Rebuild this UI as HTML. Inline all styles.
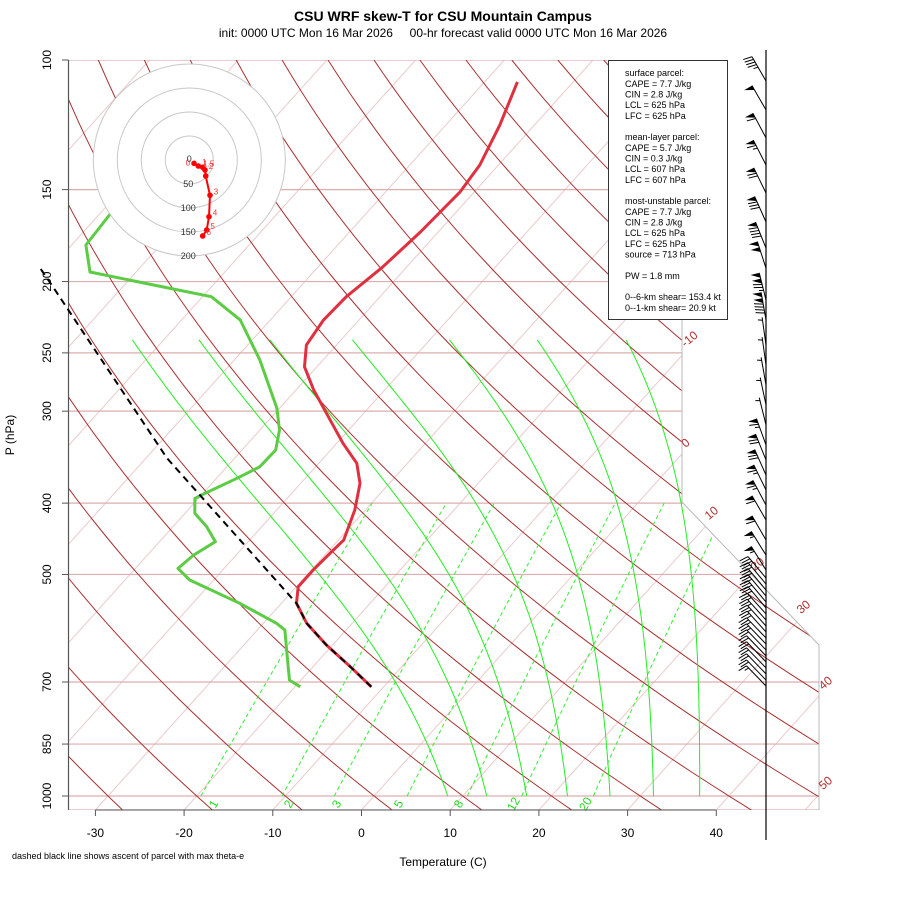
<!DOCTYPE html>
<html><head><meta charset="utf-8"><style>
body{margin:0;background:#fff;}
svg{display:block;font-family:"Liberation Sans",Arial,sans-serif;}
</style></head><body>
<svg id="chart" xmlns="http://www.w3.org/2000/svg" width="900" height="900" viewBox="0 0 900 900">
<defs><clipPath id="plotclip"><polygon points="68.5,60 682,60 682,502 819,645 819,810 68.5,810"/></clipPath></defs>
<rect width="900" height="900" fill="#fff"/>
<text x="443" y="21" text-anchor="middle" font-size="14" font-weight="bold">CSU WRF skew-T for CSU Mountain Campus</text>
<text x="443" y="37" text-anchor="middle" font-size="12" style="white-space:pre">init: 0000 UTC Mon 16 Mar 2026     00-hr forecast valid 0000 UTC Mon 16 Mar 2026</text>
<g id="bg" clip-path="url(#plotclip)"></g>
<g id="frame"></g>
<g id="series"></g>
<g id="hodo"></g>
<g id="barbs"></g>
<g id="axes"></g>
<g>
<rect x="608.5" y="60.5" width="119" height="259" fill="#fff" stroke="#333" stroke-width="1"/>
<text font-size="9" x="625" fill="#000">
<tspan x="625" y="76">surface parcel:</tspan>
<tspan x="625" y="87">CAPE = 7.7 J/kg</tspan>
<tspan x="625" y="97.5">CIN = 2.8 J/kg</tspan>
<tspan x="625" y="108">LCL = 625 hPa</tspan>
<tspan x="625" y="119">LFC = 625 hPa</tspan>
<tspan x="625" y="140">mean-layer parcel:</tspan>
<tspan x="625" y="151">CAPE = 5.7 J/kg</tspan>
<tspan x="625" y="161.5">CIN = 0.3 J/kg</tspan>
<tspan x="625" y="172">LCL = 607 hPa</tspan>
<tspan x="625" y="183">LFC = 607 hPa</tspan>
<tspan x="625" y="204">most-unstable parcel:</tspan>
<tspan x="625" y="215">CAPE = 7.7 J/kg</tspan>
<tspan x="625" y="225.5">CIN = 2.8 J/kg</tspan>
<tspan x="625" y="236">LCL = 625 hPa</tspan>
<tspan x="625" y="247">LFC = 625 hPa</tspan>
<tspan x="625" y="257.5">source = 713 hPa</tspan>
<tspan x="625" y="279">PW =  1.8 mm</tspan>
<tspan x="625" y="300">0--6-km shear= 153.4 kt</tspan>
<tspan x="625" y="311">0--1-km shear= 20.9 kt</tspan>
</text>
</g>
<text x="443" y="866" text-anchor="middle" font-size="12">Temperature (C)</text>
<text transform="translate(14,435) rotate(-90)" text-anchor="middle" font-size="12">P (hPa)</text>
<text x="12" y="859" font-size="9">dashed black line shows ascent of parcel with max theta-e</text>
</svg>
<script>
// ---- data ----
const tempP = [710.5,667.3,623.5,582.7,547.3,519.5,493.2,468.0,449.0,408.7,376.1,353.2,331.7,302.0,280.8,261.1,243.9,225.5,209.7,190.9,171.3,151.1,138.9,122.6,107.1];
const tempT = [-11.4,-15.8,-20.7,-25.1,-28.3,-29.8,-29.8,-29.6,-29.4,-31.2,-33.3,-35.7,-39.3,-44.2,-48.0,-51.4,-53.4,-54.0,-53.8,-52.7,-52.0,-51.6,-52.1,-53.9,-56.3];
const dewP = [710.5,695.8,640.0,595.0,582.7,547.3,508.8,490.6,470.6,451.3,430.6,413.0,394.1,390.0,370.1,357.0,338.8,318.2,297.3,255.7,225.5,209.7,204.3,194.1,178.4,161.9,150.0];
const dewT = [-19.4,-21.3,-24.3,-26.9,-28.5,-34.7,-42.7,-45.2,-44.8,-43.7,-46.2,-48.9,-50.4,-50.0,-47.7,-46.3,-46.2,-47.8,-50.3,-57.1,-63.4,-69.0,-74.5,-85.2,-88.4,-88.8,-88.0];
const parcelP = [710.5,667.3,623.5,582.7,547.3,347.7,205.4,191.8];
const parcelT = [-11.4,-15.8,-20.7,-25.1,-28.3,-57.6,-87.3,-91.2];
const hodoU = [9.8,18.8,27.9,32.7,34.2,43.1,41.0,36.3,27.9];
const hodoV = [-6.9,-12.5,-15.2,-20.8,-33.3,-73.5,-118.1,-145.8,-158.3];
const hodoLabels = ["0","1","1.5","2","","3","4","5","6"];
const hodoRings = [50,100,150,200];
const barbP = [106.8,116.9,127.6,138.9,151.6,166.0,180.1,191.8,211.9,225.5,243.9,259.6,276.4,294.2,313.1,333.4,349.5,366.4,383.9,402.4,421.7,449.0,470.6,493.2,505.6,515.2,525.0,535.0,545.0,555.3,565.8,576.6,587.5,598.6,609.9,621.5,633.2,645.1,657.3,669.9,682.5,695.8,708.8];
const barbSpd = [45,50,60,65,70,80,90,100,125,140,5,5,5,5,5,65,70,70,65,65,60,60,55,55,30,30,30,30,30,30,25,25,25,25,25,25,20,20,20,20,20,20,15];
const barbDir = [330,330,332,333,334,336,338,342,346,350,352,352,350,348,346,340,338,336,334,332,330,330,328,328,320,320,320,320,320,320,318,318,318,318,316,316,316,316,316,316,316,316,316];
const pTicks = [100,150,200,250,300,400,500,700,850,1000];
const tTicks = [-30,-20,-10,0,10,20,30,40];
const mixRatios = [1,2,3,5,8,12,20];
const moistT1000 = [8.3,12.7,17.2,21.8,26.6,31.5,36.7];
const moistVapourFactor = [1,1,0.95,0.9,0.85,0.76,0.67];
const dryTheta = [-30,-20,-10,0,10,20,30,40,50,60,70,80,90,100,110,120,130,140,150,160,170,180,190,200,210,220,230,240,250];
const isoT = [-130,-120,-110,-100,-90,-80,-70,-60,-50,-40,-30,-20,-10,0,10,20,30,40,50];

// ---- axis functions ----
const X0=361.5, DX=8.87, K=0.9, YB=810;
function yP(p){return 60+736*Math.log10(p/100);}
function xT(T,y){return X0+DX*T+K*(YB-y);}
const NS="http://www.w3.org/2000/svg";
function mk(tag,attrs,parent){const e=document.createElementNS(NS,tag);for(const k in attrs)e.setAttribute(k,attrs[k]);parent.appendChild(e);return e;}
function pathFrom(pts){return pts.map((q,i)=>(i?'L':'M')+q[0].toFixed(1)+','+q[1].toFixed(1)).join(' ');}
const bg=document.getElementById('bg'), frame=document.getElementById('frame'), series=document.getElementById('series'), hodo=document.getElementById('hodo'), barbs=document.getElementById('barbs'), axes=document.getElementById('axes');

// isotherms
isoT.forEach(T=>{
  const l=mk('line',{x1:xT(T,810),y1:810,x2:xT(T,60),y2:60,stroke:'#eccaca','stroke-width':1},bg);
  
  
});
// isobars
pTicks.forEach(p=>{
  const y=yP(p);
  const l=mk('line',{x1:68.5,y1:y,x2:830,y2:y,stroke:'#dcaeae','stroke-width':1.2},bg);
  
  
});
mk('line',{x1:68.5,y1:810,x2:830,y2:810,stroke:'#dcaeae','stroke-width':1.2},bg);
// dry adiabats
dryTheta.forEach(th=>{
  const pts=[];
  for(let i=0;i<=60;i++){const p=Math.exp(Math.log(1050)+(Math.log(100)-Math.log(1050))*i/60);const T=(th+273.15)*Math.pow(p/1000,0.2857)-273.15;const y=yP(p);pts.push([xT(T,y),y]);}
  const l=mk('path',{d:pathFrom(pts),fill:'none',stroke:'#a83030','stroke-width':1},bg);
  
  
});
// mixing ratio lines
function tdFromW(w,p){const e=w*p/(622+w);const a=Math.log(e/6.112);let td=243.5*a/(17.67-a);td-=Math.max(0,5-w)*0.6;return td;}
mixRatios.forEach(w=>{
  const pts=[];
  for(let p=1000;p>=400;p-=20){const y=yP(p);pts.push([xT(tdFromW(w,p),y),y]);}
  const l=mk('path',{d:pathFrom(pts),fill:'none',stroke:'#33ee33','stroke-width':1,'stroke-dasharray':'4,3'},bg);
  
  
});
// moist adiabats
function es(T){return 6.112*Math.exp(17.67*T/(T+243.5));}
moistT1000.forEach((T0,j)=>{
  const f=moistVapourFactor[j];
  let T=T0, lp=Math.log(1000); const lpEnd=Math.log(240); const n=120; const d=(lpEnd-lp)/n;
  const pts=[[xT(T,yP(1000)),yP(1000)]];
  for(let i=0;i<n;i++){
    const p=Math.exp(lp);const Tk=T+273.15;const e=es(T);const ws=f*0.622*e/(p-e);
    const dT=(287*Tk+2.5e6*ws)/(1004+2.5e6*2.5e6*ws*0.622/(287*Tk*Tk));
    T+=dT*d; lp+=d; const y=yP(Math.exp(lp)); pts.push([xT(T,y),y]);
  }
  const l=mk('path',{d:pathFrom(pts),fill:'none',stroke:'#22ee22','stroke-width':1},bg);
  
  
});
// frame
mk('path',{d:'M682,60 L682,502 L819,645 L819,810',fill:'none',stroke:'#b8b8b8','stroke-width':1},frame);
mk('line',{x1:68.5,y1:60,x2:68.5,y2:810,stroke:'#555','stroke-width':1.2},frame);
// dry adiabat labels
[["-10",692,342],["0",688,446],["10",714,516],["20",760,567],["30",806,610],["40",828,686],["50",828,786]].forEach(a=>{
  const t=mk('text',{transform:`translate(${a[1]},${a[2]}) rotate(-40)`,'text-anchor':'middle','font-size':12,fill:'#b03030'},frame);t.textContent=a[0];
  
  
});
// mixing ratio labels
[["1",217],["2",292],["3",340],["5",402],["8",462],["12",517],["20",589]].forEach(a=>{
  const t=mk('text',{transform:`translate(${a[1]},${806}) rotate(-60)`,'text-anchor':'middle','font-size':12,fill:'#22dd22'},frame);t.textContent=a[0];
  
  
});
// axes ticks
pTicks.forEach(p=>{
  const y=yP(p);
  mk('line',{x1:62,y1:y,x2:68.5,y2:y,stroke:'#555','stroke-width':1},axes);
  const t=mk('text',{transform:`translate(51,${y}) rotate(-90)`,'text-anchor':'middle','font-size':12},axes);t.textContent=p;
  
  
});
mk('line',{x1:xT(-30,810),y1:810,x2:xT(40,810),y2:810,stroke:'#555','stroke-width':1},axes);
tTicks.forEach(T=>{
  const x=xT(T,810);
  mk('line',{x1:x,y1:810,x2:x,y2:816,stroke:'#555','stroke-width':1},axes);
  const t=mk('text',{x:x,y:837,'text-anchor':'middle','font-size':12},axes);t.textContent=T;
  
  
});
// profiles
function prof(P,T){return P.map((p,i)=>{const y=yP(p);return [xT(T[i],y),y];});}
const dew=mk('path',{d:pathFrom(prof(dewP,dewT)),fill:'none',stroke:'#5ccc44','stroke-width':3,'stroke-linejoin':'round'},series);


const tl=mk('path',{d:pathFrom(prof(tempP,tempT)),fill:'none',stroke:'#e0303f','stroke-width':3,'stroke-linejoin':'round'},series);


const pl=mk('path',{d:pathFrom(prof(parcelP,parcelT)),fill:'none',stroke:'#000','stroke-width':2,'stroke-dasharray':'7,5'},series);


// hodograph
const HC=[189.3,160], HS=24/50;
mk('circle',{cx:HC[0],cy:HC[1],r:96,fill:'#fff',stroke:'none'},hodo);
hodoRings.forEach(r=>{
  const c=mk('circle',{cx:HC[0],cy:HC[1],r:r*HS,fill:'none',stroke:'#c8c8c8','stroke-width':1},hodo);
  
  
  const t=mk('text',{x:HC[0]-1,y:HC[1]+r*HS+3,'text-anchor':'middle','font-size':9,fill:'#333'},hodo);t.textContent=r;
  
  
});
{const t=mk('text',{x:HC[0],y:HC[1]+2,'text-anchor':'middle','font-size':9,fill:'#333'},hodo);t.textContent='0';}
const hp=hodoU.map((u,i)=>[HC[0]+u*HS,HC[1]-hodoV[i]*HS]);
const hl=mk('path',{d:pathFrom(hp),fill:'none',stroke:'#ff0000','stroke-width':2},hodo);


hp.forEach((q,i)=>{
  const c=mk('circle',{cx:q[0],cy:q[1],r:2.8,fill:'#ff0000'},hodo);
  
  
  if(hodoLabels[i]!==''){const t=mk('text',{x:q[0]+(i===0?-6:6),y:q[1]+(i===0?2:-1),'text-anchor':'middle','font-size':8,fill:'#ff3030'},hodo);t.textContent=hodoLabels[i];}
});
// wind barbs
mk('line',{x1:766,y1:50,x2:766,y2:840,stroke:'#000','stroke-width':1.2},barbs);
barbP.forEach((p,i)=>{
  const y=yP(p), d=barbDir[i]*Math.PI/180, L=28;
  const s=[Math.sin(d),-Math.cos(d)], pr=[s[1],-s[0]];
  const tip=[766+s[0]*L,y+s[1]*L];
  const g=mk('g',{},barbs);
  
  
  mk('line',{x1:766,y1:y,x2:tip[0],y2:tip[1],stroke:'#000','stroke-width':1},g);
  let spd=Math.round(barbSpd[i]/5)*5, pos=0;
  while(spd>=50){
    const a=[tip[0]-s[0]*pos,tip[1]-s[1]*pos], b=[a[0]-s[0]*5,a[1]-s[1]*5];
    mk('polygon',{points:`${a[0]},${a[1]} ${a[0]+pr[0]*9},${a[1]+pr[1]*9} ${b[0]},${b[1]}`,fill:'#000'},g);
    pos+=6; spd-=50;
  }
  while(spd>=10){
    const a=[tip[0]-s[0]*pos,tip[1]-s[1]*pos];
    mk('line',{x1:a[0],y1:a[1],x2:a[0]+pr[0]*9+s[0]*2,y2:a[1]+pr[1]*9+s[1]*2,stroke:'#000','stroke-width':1},g);
    pos+=3; spd-=10;
  }
  if(spd>=5){
    if(pos===0)pos=3;
    const a=[tip[0]-s[0]*pos,tip[1]-s[1]*pos];
    mk('line',{x1:a[0],y1:a[1],x2:a[0]+pr[0]*4.5+s[0]*1,y2:a[1]+pr[1]*4.5+s[1]*1,stroke:'#000','stroke-width':1},g);
  }
});
</script>
</body></html>
